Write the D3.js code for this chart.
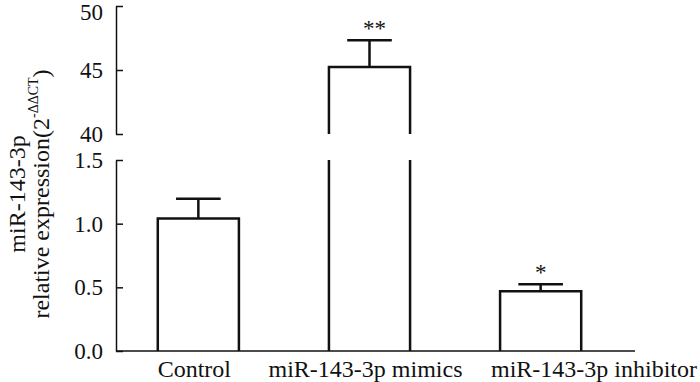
<!DOCTYPE html>
<html>
<head>
<meta charset="utf-8">
<script src="https://cdn.jsdelivr.net/npm/d3@7"></script>
<style>
  body { margin: 0; background: #fff; }
  svg { display: block; }
  text { font-family: "Liberation Serif", "Times New Roman", serif; fill: #111; }
</style>
</head>
<body>
<div id="chart"></div>
<script>
// data
const categories = ['Control', 'miR-143-3p mimics', 'miR-143-3p inhibitor'];
const means = [1.04, 45.23, 0.47];
const errors = [0.155, 2.1, 0.055];
const marks = ['', '**', '*'];
const upperTicks = [40, 45, 50];
const lowerTicks = [0, 0.5, 1.0, 1.5];

const width = 700, height = 382;
const axisX = 116;

const svg = d3.select('#chart').append('svg')
  .attr('width', width)
  .attr('height', height);

let x = d3.scaleBand()
  .domain(categories)
  .range([115, 624])
  .paddingInner(0.526)
  .paddingOuter(0.25);

// broken y axis: two stacked linear scales
let yLow = d3.scaleLinear().domain([0, 1.5]).range([351, 160]);
let yHigh = d3.scaleLinear().domain([40, 50]).range([134, 6]);
const breakAt = 1.5;
const y = v => v > breakAt ? yHigh(v) : yLow(v);

let data = categories.map((c, i) => ({cat: c, mean: means[i], err: errors[i], mark: marks[i]}));

// axes
const axisStyle = g => {
  g.select('.domain').attr('stroke', '#111').attr('stroke-width', 1.5);
  g.selectAll('.tick line').attr('stroke', '#111').attr('stroke-width', 1.5);
  g.selectAll('.tick text')
    .style('font-family', '"Liberation Serif", "Times New Roman", serif')
    .style('font-size', '23px')
    .attr('fill', '#111');
};

svg.append('g')
  .attr('transform', `translate(${axisX},0)`)
  .call(d3.axisLeft(yLow).tickValues(lowerTicks).tickFormat(d3.format('.1f'))
    .tickSizeInner(-7).tickSizeOuter(0).tickPadding(13))
  .call(axisStyle);

svg.append('g')
  .attr('transform', `translate(${axisX},0)`)
  .call(d3.axisLeft(yHigh).tickValues(upperTicks).tickFormat(d3.format('d'))
    .tickSizeInner(-7).tickSizeOuter(0).tickPadding(13))
  .call(axisStyle)
  .selectAll('.tick text')
  .filter(d => d === 50)
  .attr('dy', '0.6em');   // keep the top label inside the frame

// x baseline
svg.append('line')
  .attr('x1', axisX).attr('x2', 635)
  .attr('y1', yLow(0)).attr('y2', yLow(0))
  .attr('stroke', '#111').attr('stroke-width', 1.5);

// bars
const barG = svg.append('g')
  .attr('fill', 'none')
  .attr('stroke', '#111')
  .attr('stroke-width', 2.5);

data.forEach(d => {
  let x0 = x(d.cat), x1 = x(d.cat) + x.bandwidth();
  if (d.mean > breakAt) {
    let bottom = yHigh(yHigh.domain()[0]);
    barG.append('path')
      .attr('d', `M${x0},${bottom}V${yHigh(d.mean)}H${x1}V${bottom}`);
    barG.append('path')
      .attr('d', `M${x0},${yLow(breakAt)}V${yLow(0)}M${x1},${yLow(breakAt)}V${yLow(0)}`);
  } else {
    barG.append('path')
      .attr('d', `M${x0},${yLow(0)}V${yLow(d.mean)}H${x1}V${yLow(0)}`);
  }
});

// error bars
const capHalf = x.bandwidth() * 0.275;
data.forEach(d => {
  let cx = x(d.cat) + x.bandwidth() / 2;
  let top = y(d.mean + d.err);
  barG.append('path')
    .attr('d', `M${cx},${y(d.mean)}V${top}M${cx - capHalf},${top}H${cx + capHalf}`);
  if (d.mark) {
    svg.append('text')
      .attr('x', cx + (d.mark.length > 1 ? 5 : 0))
      .attr('y', top - 4.5)
      .attr('text-anchor', 'middle')
      .style('font-size', '23px')
      .text(d.mark);
  }
});

// category labels; the last one sits flush with the right edge as in the figure
svg.append('g').selectAll('text')
  .data(data)
  .enter()
  .append('text')
  .attr('y', 377)
  .attr('text-anchor', 'middle')
  .style('font-size', '24px')
  .text(d => d.cat)
  .attr('x', function(d, i) {
    let cx = x(d.cat) + x.bandwidth() / 2 - 4;
    let w = this.getComputedTextLength();
    return i === categories.length - 1 ? width - 3 - w / 2 : cx;
  });

// y label, two lines
const labelY = 194;
svg.append('text')
  .attr('transform', `translate(25,${labelY}) rotate(-90)`)
  .attr('text-anchor', 'middle')
  .style('font-size', '24px')
  .text('miR-143-3p');

let line2 = svg.append('text')
  .attr('transform', `translate(49,${labelY}) rotate(-90)`)
  .attr('text-anchor', 'middle')
  .style('font-size', '24px');
line2.append('tspan').text('relative expression(2');
line2.append('tspan').attr('dy', -11).style('font-size', '14px').text('-ΔΔCT');
line2.append('tspan').attr('dy', 11).text(')');
</script>
</body>
</html>
